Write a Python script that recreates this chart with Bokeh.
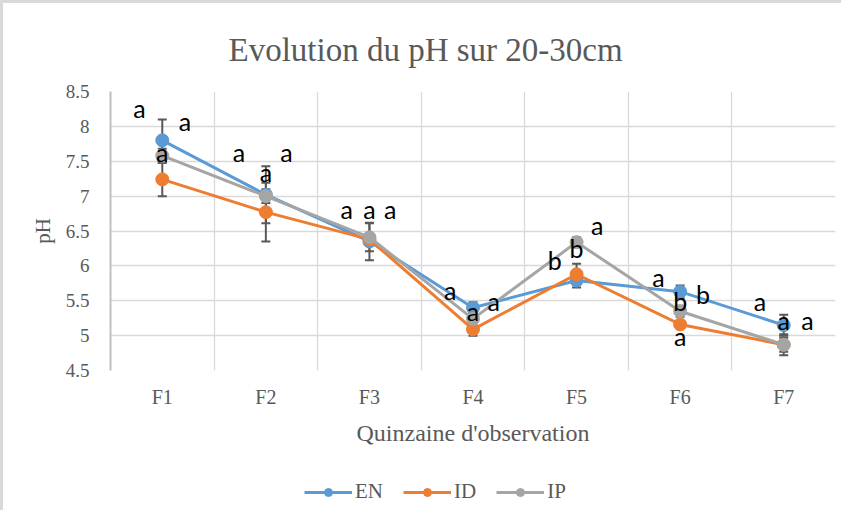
from bokeh.plotting import figure
from bokeh.layouts import column
from bokeh.models import (Range1d, FixedTicker, Whisker, ColumnDataSource, Legend,
                          LegendItem, TeeHead)
from bokeh.core.properties import value
from bokeh.embed import file_html
from bokeh.resources import INLINE

# ---------------- data ----------------
categories = ["F1", "F2", "F3", "F4", "F5", "F6", "F7"]
series_names = ["EN", "ID", "IP"]
en = [7.80, 7.02, 6.35, 5.40, 5.79, 5.63, 5.15]
id_ = [7.24, 6.77, 6.38, 5.09, 5.88, 5.16, 4.87]
ip = [7.58, 7.00, 6.41, 5.24, 6.34, 5.35, 4.87]
en_err = [0.30, 0.41, 0.27, 0.08, 0.10, 0.09, 0.15]
id_err = [0.24, 0.42, 0.05, 0.09, 0.15, 0.05, 0.10]
ip_err = [0.10, 0.10, 0.20, 0.05, 0.07, 0.08, 0.15]
y_ticks = [4.5, 5, 5.5, 6, 6.5, 7, 7.5, 8, 8.5]
y_tick_labels = ["4.5", "5", "5.5", "6", "6.5", "7", "7.5", "8", "8.5"]

# significance letters: category, offset within category, pH level, letter
letter_cat = ["F1", "F1", "F1", "F2", "F2", "F2", "F3", "F3", "F3", "F4", "F4", "F4",
              "F5", "F5", "F5", "F6", "F6", "F6", "F6", "F7", "F7", "F7"]
letter_dx = [-0.22, 0.22, 0.0, -0.26, 0.20, 0.0, -0.22, 0.0, 0.20, -0.22, 0.20, 0.0,
             -0.21, 0.0, 0.20, -0.21, 0.22, 0.0, 0.0, -0.23, 0.0, 0.23]
letter_y = [8.26, 8.08, 7.63, 7.63, 7.63, 7.34, 6.81, 6.81, 6.81, 5.66, 5.50, 5.36,
            6.09, 6.26, 6.58, 5.84, 5.60, 5.50, 5.00, 5.50, 5.22, 5.22]
letter_text = ["a", "a", "a", "a", "a", "a", "a", "a", "a", "a", "a", "a",
               "b", "b", "a", "a", "b", "b", "a", "a", "a", "a"]

colors = ["#5B9BD5", "#ED7D31", "#A5A5A5"]
series_vals = [en, id_, ip]
series_errs = [en_err, id_err, ip_err]
TXT = "#595959"
SERIF = "Liberation Serif"

xs = [i + 0.5 for i in range(len(categories))]

p = figure(width=838, height=470, x_range=Range1d(0, len(categories)),
           y_range=Range1d(y_ticks[0], y_ticks[-1]),
           output_backend="svg", toolbar_location=None,
           min_border_left=107, min_border_right=6, min_border_top=88,
           min_border_bottom=103)
p.outline_line_color = None
p.background_fill_color = "white"
p.border_fill_color = "white"

p.title.text = "Evolution du pH sur 20-30cm"
p.title.text_font = SERIF
p.title.text_font_size = "33px"
p.title.text_font_style = "normal"
p.title.text_color = TXT
p.title.align = "left"
p.title.offset = 118
p.title.standoff = 48

# grids
p.xgrid.ticker = FixedTicker(ticks=list(range(len(categories) + 1)))
p.ygrid.ticker = FixedTicker(ticks=y_ticks[1:])
p.xgrid.grid_line_color = "#D9D9D9"
p.ygrid.grid_line_color = "#D9D9D9"
p.xgrid.grid_line_width = 1.3
p.ygrid.grid_line_width = 1.3

# y axis
ya = p.yaxis[0]
ya.ticker = FixedTicker(ticks=y_ticks)
ya.major_label_overrides = {t: l for t, l in zip(y_ticks, y_tick_labels)}
ya.axis_line_color = "#BFBFBF"
ya.axis_line_width = 2
ya.major_tick_line_color = None
ya.minor_tick_line_color = None
ya.major_label_text_font = SERIF
ya.major_label_text_font_size = "19px"
ya.major_label_text_color = TXT
ya.major_label_standoff = 15
ya.axis_label = "pH"
ya.axis_label_text_font = SERIF
ya.axis_label_text_font_size = "21px"
ya.axis_label_text_font_style = "normal"
ya.axis_label_text_color = TXT
ya.axis_label_standoff = 8

# x axis
xa = p.xaxis[0]
xa.ticker = FixedTicker(ticks=xs)
xa.major_label_overrides = {x: c for x, c in zip(xs, categories)}
xa.axis_line_color = None
xa.major_tick_line_color = None
xa.minor_tick_line_color = None
xa.major_label_text_font = SERIF
xa.major_label_text_font_size = "20px"
xa.major_label_text_color = TXT
xa.major_label_standoff = 9
xa.axis_label = "Quinzaine d'observation"
xa.axis_label_text_font = SERIF
xa.axis_label_text_font_size = "24px"
xa.axis_label_text_font_style = "normal"
xa.axis_label_text_color = TXT
xa.axis_label_standoff = 9

# error bars
for vals, errs in zip(series_vals, series_errs):
    src = ColumnDataSource(dict(x=xs, upper=[v + e for v, e in zip(vals, errs)],
                                lower=[v - e for v, e in zip(vals, errs)]))
    w = Whisker(base="x", upper="upper", lower="lower", source=src,
                line_color=TXT, line_width=2,
                upper_head=TeeHead(size=9, line_color=TXT, line_width=2),
                lower_head=TeeHead(size=9, line_color=TXT, line_width=2))
    p.add_layout(w)

for name, vals, col in zip(series_names, series_vals, colors):
    p.line(xs, vals, line_color=col, line_width=3)
    p.scatter(xs, vals, size=13, fill_color=col, line_color=col)

# letters
lx = [categories.index(c) + 0.5 + d for c, d in zip(letter_cat, letter_dx)]
p.text(x=lx, y=letter_y, text=letter_text, text_font=value("Lato"),
       text_font_size="25px", text_color="black", text_align="center",
       text_baseline="middle")

# legend strip below the chart (series renderers lie outside its visible range)
lf = figure(width=838, height=37, x_range=Range1d(0, len(categories)),
            y_range=Range1d(0, 1),
            output_backend="svg", toolbar_location=None,
            x_axis_location=None, y_axis_location=None, min_border=0)
lf.outline_line_color = None
lf.grid.visible = False
lf.background_fill_color = "white"
lf.border_fill_color = "white"
items = []
for name, vals, col in zip(series_names, series_vals, colors):
    l = lf.line(xs, vals, line_color=col, line_width=3)
    s = lf.scatter(xs, vals, size=12, fill_color=col, line_color=col)
    items.append(LegendItem(label=name, renderers=[l, s]))
legend = Legend(items=items, location=(194, 6), orientation="horizontal",
                glyph_width=48, glyph_height=20, label_standoff=3, spacing=20,
                padding=0, margin=0, border_line_color=None,
                background_fill_alpha=0,
                label_text_font=SERIF, label_text_font_size="21px",
                label_text_color=TXT)
lf.add_layout(legend)

layout = column(p, lf, spacing=0,
                styles={"border-left": "3px solid #d9d9d9",
                        "border-top": "3px solid #d9d9d9"})

open("out.html", "w").write(file_html(layout, INLINE))
